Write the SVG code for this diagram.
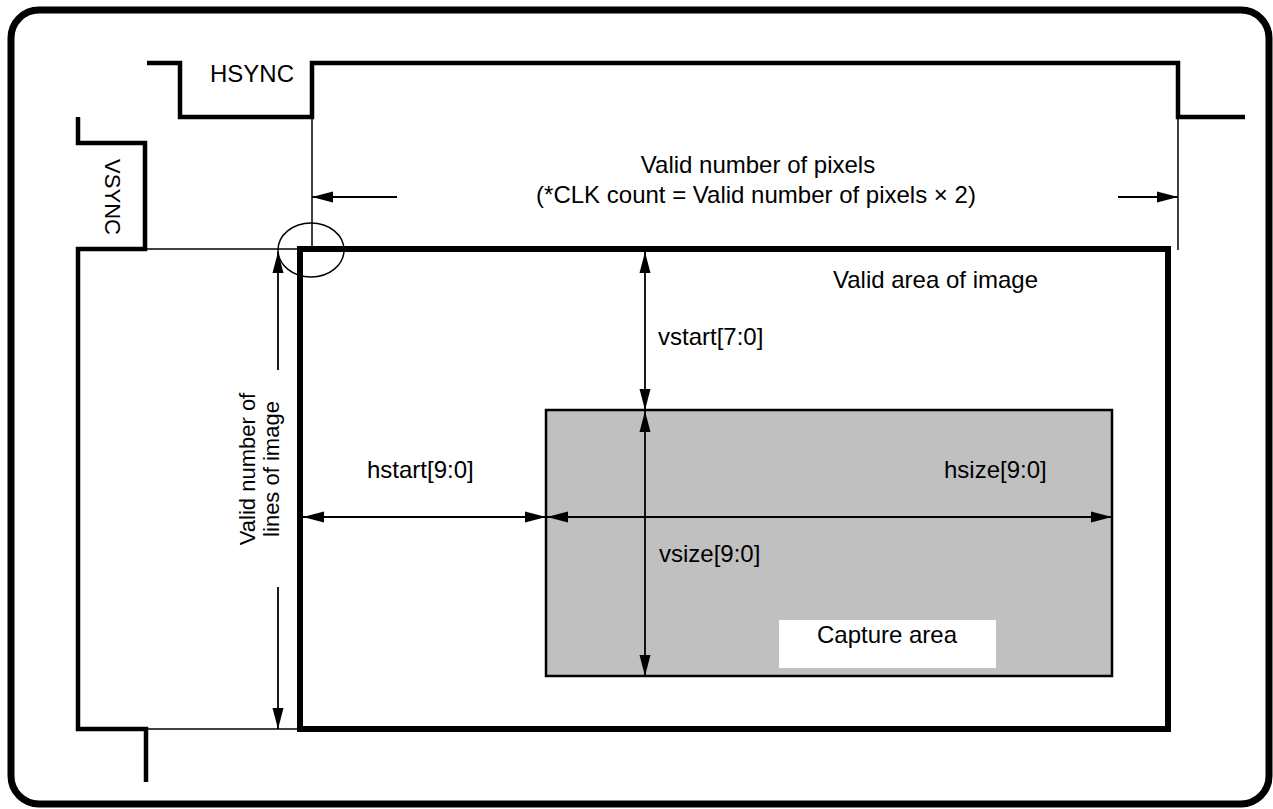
<svg xmlns="http://www.w3.org/2000/svg" width="1273" height="809" viewBox="0 0 1273 809">
<style>
text{font-family:"Liberation Sans",Arial,sans-serif;font-size:24px;fill:#000}
.thick{fill:none;stroke:#000;stroke-width:4.5;stroke-linejoin:miter}
.thin{fill:none;stroke:#000;stroke-width:1.5}
.arr{fill:none;stroke:#000;stroke-width:1.8}
</style>
<defs>
<marker id="ah" markerUnits="userSpaceOnUse" markerWidth="22" markerHeight="12" refX="21" refY="6" orient="auto-start-reverse">
<path d="M0,0.5 L21,6 L0,11.5 Z" fill="#000"/>
</marker>
</defs>
<rect width="1273" height="809" fill="#fff"/>
<g id="frame">
<rect x="11" y="10" width="1258" height="794" rx="28" ry="28" fill="none" stroke="#000" stroke-width="7"/>
</g>
<g id="hsync">
<path class="thick" d="M147,63 H180 V117 H312 V63 H1178 V117 H1245"/>
<text x="210" y="82">HSYNC</text>
</g>
<g id="vsync">
<path class="thick" d="M78,117 V143 H145 V249 H78 V729 H146 V782"/>
<text transform="translate(105,197) rotate(90)" text-anchor="middle" style="font-size:22px">VSYNC</text>
</g>
<g id="valid-area">
<rect x="300" y="249" width="868" height="480" fill="none" stroke="#000" stroke-width="6"/>
<text x="833" y="288">Valid area of image</text>
</g>
<g id="capture-area">
<rect x="546" y="410" width="566" height="266" fill="#c0c0c0" stroke="#000" stroke-width="2.5"/>
<rect x="779" y="620" width="217" height="48" fill="#fff"/>
<text x="887" y="643" text-anchor="middle">Capture area</text>
</g>
<g id="highlight">
<ellipse cx="311" cy="250" rx="33" ry="27" class="thin"/>
</g>
<g id="connectors">
<line class="thin" x1="312" y1="117" x2="312" y2="249"/>
<line class="thin" x1="1178" y1="117" x2="1178" y2="250"/>
<line class="thin" x1="145" y1="249" x2="300" y2="249"/>
<line class="thin" x1="146" y1="729" x2="300" y2="729"/>
<line class="arr" x1="397" y1="197" x2="312" y2="197" marker-end="url(#ah)"/>
<line class="arr" x1="1118" y1="197" x2="1178" y2="197" marker-end="url(#ah)"/>
<line class="arr" x1="278" y1="370" x2="278" y2="252" marker-end="url(#ah)"/>
<line class="arr" x1="278" y1="587" x2="278" y2="729" marker-end="url(#ah)"/>
<line class="arr" x1="645" y1="252" x2="645" y2="410" marker-start="url(#ah)" marker-end="url(#ah)"/>
<line class="arr" x1="645" y1="411" x2="645" y2="676" marker-start="url(#ah)" marker-end="url(#ah)"/>
<line class="arr" x1="303" y1="517" x2="546" y2="517" marker-start="url(#ah)" marker-end="url(#ah)"/>
<line class="arr" x1="547" y1="517" x2="1112" y2="517" marker-start="url(#ah)" marker-end="url(#ah)"/>
</g>
<g id="labels">
<text x="758" y="173" text-anchor="middle">Valid number of pixels</text>
<text x="756" y="203" text-anchor="middle">(*CLK count = Valid number of pixels × 2)</text>
<text x="658" y="345">vstart[7:0]</text>
<text x="367" y="478">hstart[9:0]</text>
<text x="944" y="478">hsize[9:0]</text>
<text x="659" y="562">vsize[9:0]</text>
<text transform="translate(255,469) rotate(-90)" text-anchor="middle" style="font-size:22px">Valid number of</text>
<text transform="translate(279,469) rotate(-90)" text-anchor="middle" style="font-size:22px">lines of image</text>
</g>
</svg>
